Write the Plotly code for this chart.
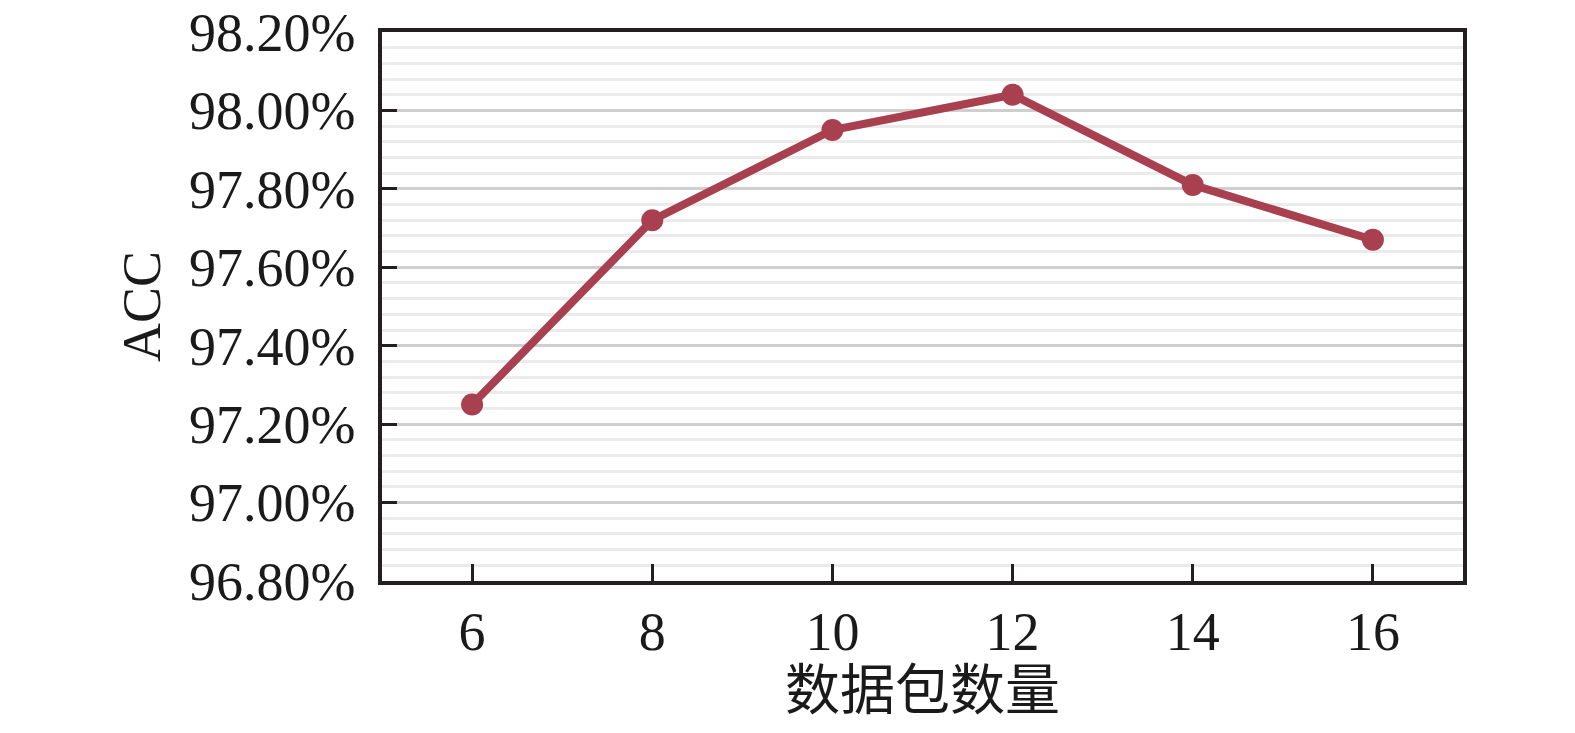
import plotly.graph_objects as go

packets = [6, 8, 10, 12, 14, 16]
acc = [97.25, 97.72, 97.95, 98.04, 97.81, 97.67]
y_ticks = [96.8, 97.0, 97.2, 97.4, 97.6, 97.8, 98.0, 98.2]
y_tick_labels = ["96.80%", "97.00%", "97.20%", "97.40%", "97.60%", "97.80%", "98.00%", "98.20%"]
x_ticks = [6, 8, 10, 12, 14, 16]

serif = "Liberation Serif, Times New Roman, Noto Sans CJK SC, serif"

fig = go.Figure()
fig.add_trace(go.Scatter(
    x=packets, y=acc, mode="lines+markers",
    line=dict(color="#A8404F", width=8),
    marker=dict(color="#A8404F", size=22),
    showlegend=False,
))

fig.update_layout(
    width=1559, height=717,
    margin=dict(l=374, r=104, t=24, b=144),
    paper_bgcolor="white", plot_bgcolor="white",
    font=dict(family=serif, size=54, color="#1a1a1a"),
    xaxis=dict(
        range=[5, 17], tickvals=x_ticks, ticktext=[str(v) for v in x_ticks],
        ticks="inside", ticklen=17, tickwidth=3, tickcolor="#231f20",
        showline=True, linecolor="#231f20", linewidth=3.5, mirror=True,
        showgrid=False, zeroline=False, automargin=False,
        ticklabeloverflow="allow",
        tickfont=dict(family=serif, size=54),
        title=dict(text="数据包数量", font=dict(family="Noto Sans CJK SC, serif", size=55), standoff=2),
    ),
    yaxis=dict(
        range=[96.8, 98.2], tickvals=y_ticks, ticktext=y_tick_labels,
        ticks="inside", ticklen=15, tickwidth=3, tickcolor="#231f20",
        showline=True, linecolor="#231f20", linewidth=3.5, mirror=True,
        showgrid=True, gridcolor="#CFCFCF", gridwidth=3, zeroline=False,
        ticklabelstandoff=12, automargin=False,
        ticklabeloverflow="allow",
        minor=dict(dtick=0.04, tick0=96.8, showgrid=True, gridcolor="#EBEBEB", gridwidth=3, ticks=""),
        tickfont=dict(family=serif, size=54),
        title=dict(text="ACC", font=dict(family=serif, size=54), standoff=12),
    ),
)

fig.write_html("out.html")
